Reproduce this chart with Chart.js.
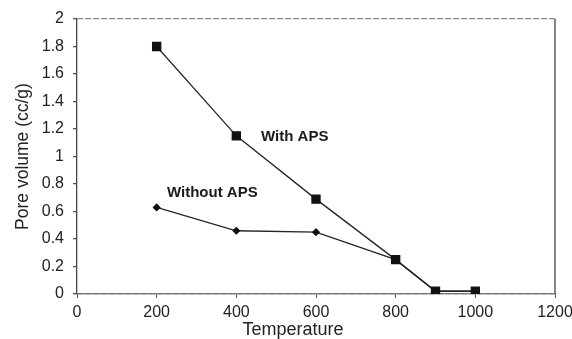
<!DOCTYPE html>
<html><head><meta charset="utf-8">
<script src="https://cdn.jsdelivr.net/npm/chart.js@4/dist/chart.umd.min.js"></script>
<style>html,body{margin:0;padding:0;background:#fff}#wrap{width:572px;height:339px}</style>
</head><body><div id="wrap"><canvas id="c" width="572" height="339"></canvas></div>
<script>
const temperaturesWith = [200, 400, 600, 800, 900, 1000];
const poreVolumeWith = [1.80, 1.15, 0.69, 0.25, 0.02, 0.02];
const temperaturesWithout = [200, 400, 600, 800, 900, 1000];
const poreVolumeWithout = [0.63, 0.46, 0.45, 0.25, 0.02, 0.02];
const xTickValues = [0, 200, 400, 600, 800, 1000, 1200];
const yTickValues = [0, 0.2, 0.4, 0.6, 0.8, 1, 1.2, 1.4, 1.6, 1.8, 2];
const seriesNames = ['With APS', 'Without APS'];
const labelAnchors = [[462, 1.14], [226, 0.735]];
const xTitle = 'Temperature';

const FONT = '"Liberation Sans", Arial, sans-serif';
const ink = '#262626';
const framePlugin = {
  id: 'frame',
  afterDraw(chart) {
    const {ctx, chartArea: a, scales} = chart;
    ctx.save();
    ctx.strokeStyle = '#444';
    ctx.lineWidth = 1.3;
    ctx.beginPath(); ctx.moveTo(a.right, a.top); ctx.lineTo(a.right, a.bottom); ctx.stroke();
    ctx.font = 'bold 15px ' + FONT;
    ctx.fillStyle = '#1a1a1a';
    ctx.textBaseline = 'middle';
    seriesNames.forEach((n, i) => {
      ctx.fillText(n, scales.x.getPixelForValue(labelAnchors[i][0]), scales.y.getPixelForValue(labelAnchors[i][1]));
    });
    ctx.font = '18px ' + FONT;
    ctx.fillStyle = '#222';
    ctx.textAlign = 'center';
    ctx.fillText(xTitle, a.left + (a.right - a.left) * 0.452, a.bottom + 36);
    ctx.restore();
  }
};

new Chart(document.getElementById('c'), {
  type: 'line',
  data: {
    datasets: [
      { label: seriesNames[0], data: temperaturesWith.map((t, i) => ({x: t, y: poreVolumeWith[i]})),
        borderColor: ink, backgroundColor: '#111', borderWidth: 1.3, pointStyle: 'rect', pointRadius: 5.7,
        pointBorderColor: '#111', tension: 0 },
      { label: seriesNames[1], data: temperaturesWithout.map((t, i) => ({x: t, y: poreVolumeWithout[i]})),
        borderColor: ink, backgroundColor: '#111', borderWidth: 1.3, pointStyle: 'rectRot', pointRadius: 3.2,
        pointBorderColor: '#111', tension: 0 }
    ]
  },
  options: {
    responsive: false, animation: false, devicePixelRatio: 1,
    layout: { padding: { top: 19, right: 17, left: 0, bottom: 0 } },
    plugins: { legend: { display: false }, tooltip: { enabled: false } },
    scales: {
      x: {
        type: 'linear', min: 0, max: 1200,
        afterBuildTicks(s) { s.ticks = xTickValues.map(v => ({value: v})); },
        afterFit(s) { s.height = 45; s.paddingRight = 0; },
        grid: { display: true, drawOnChartArea: false, drawTicks: true, tickLength: 4, color: '#555' },
        border: { display: true, color: '#777', width: 1.2 },
        ticks: { color: '#222', padding: 5, font: { family: FONT, size: 16 }, maxRotation: 0,
                 callback: (v) => String(v) }
      },
      y: {
        type: 'linear', min: 0, max: 2,
        afterBuildTicks(s) { s.ticks = yTickValues.map(v => ({value: v})); },
        afterFit(s) { s.width = 77; },
        grid: {
          drawOnChartArea: true, drawTicks: true, tickLength: 4,
          color: (c) => (c.tick && c.tick.value === 2) ? '#888' : (c.tick && c.tick.value === 0) ? '#444' : 'rgba(0,0,0,0)',
          tickColor: '#555', lineWidth: 1.3
        },
        border: { display: true, color: '#444', width: 1.3, dash: [6, 2] },
        ticks: { color: '#222', padding: 9, font: { family: FONT, size: 16 },
                 callback: (v) => String(v) },
        title: { display: true, text: 'Pore volume (cc/g)', color: '#222', padding: { top: 13, bottom: 0 },
                 font: { family: FONT, size: 17.5 } }
      }
    }
  },
  plugins: [framePlugin]
});
</script></body></html>
